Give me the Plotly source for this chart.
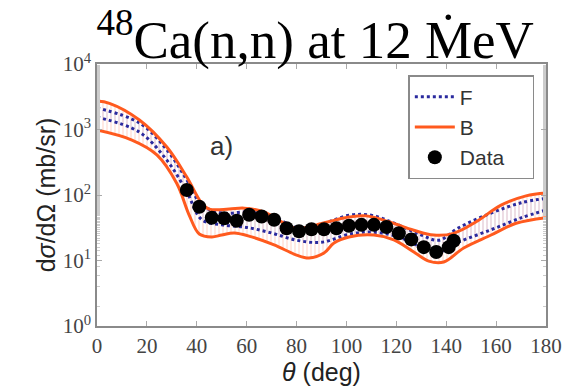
import plotly.graph_objects as go

# ---- data ----
theta_b_up = [0, 5, 17, 28, 36, 42, 45, 53, 59, 67, 74, 80, 88, 95, 101, 108, 117, 127, 135, 143, 152, 162, 172, 180]
b_up = [2720, 2510, 1400, 540, 188, 75, 61, 61, 63, 55, 39, 31, 35, 41, 46, 48, 39, 29, 24.5, 26, 39, 70, 97, 107]

theta_b_lo = [0, 14, 24, 32, 37, 41, 46, 50, 55, 62, 71, 80, 85, 91, 95, 101, 111, 119, 127, 133, 139, 147, 158, 168, 180]
b_lo = [980, 690, 410, 150, 49, 25.4, 22.9, 24.5, 26.3, 22.9, 17.3, 12.1, 10.9, 13.0, 18.5, 22.9, 24.5, 20.6, 13.5, 9.8, 9.5, 15.5, 24.5, 37, 45]

theta_f = [0, 17, 28, 36, 42, 50, 60, 70, 80, 90, 101, 110, 120, 130, 137, 145, 158, 170, 180]
f_up = [2140, 1260, 490, 170, 71, 53, 55, 48, 32, 36, 49, 49, 36, 24.5, 20.4, 31.6, 53, 76, 89]
f_lo = [1550, 910, 340, 112, 42, 35, 32, 26.3, 20.4, 19.0, 25.1, 27.2, 23.4, 16.2, 13.5, 19.1, 29.5, 44.7, 58.9]

theta_data = [36, 41, 46, 51, 56, 61, 66, 71, 76, 81, 86, 91, 96, 101, 106, 111, 116, 121, 126, 131, 136, 141, 143]
sigma_data = [119, 66, 45, 44, 40.5, 50, 47, 42, 31, 28, 30, 30, 31, 34, 35, 35, 32.5, 26, 21, 16, 13.5, 16, 20]
sigma_err = [6, 3.3, 2.3, 2.2, 2.0, 2.5, 2.4, 2.1, 1.6, 1.4, 1.5, 1.5, 1.6, 1.7, 1.8, 1.8, 1.6, 1.3, 1.1, 0.8, 0.7, 0.8, 1.0]

y_tickvals = [1, 10, 100, 1000, 10000]
y_ticktext = ["10<sup>0</sup>", "10<sup>1</sup>", "10<sup>2</sup>", "10<sup>3</sup>", "10<sup>4</sup>"]
x_tickvals = list(range(0, 181, 20))

ORANGE = "#ff5a1e"
BLUE = "#2a2a9e"
NBSP = "\u00a0"

fig = go.Figure()

# B band (hatched)
fig.add_trace(go.Scatter(
    x=theta_b_up + theta_b_lo[::-1], y=b_up + b_lo[::-1],
    fill="toself", mode="none", showlegend=False, hoverinfo="skip",
    fillcolor="rgba(0,0,0,0)",
    fillpattern=dict(shape="|", fgcolor="#ffb09a", bgcolor="rgba(255,255,255,0)", size=4, solidity=0.28),
))
# F band (hatched)
fig.add_trace(go.Scatter(
    x=theta_f + theta_f[::-1], y=f_up + f_lo[::-1],
    fill="toself", mode="none", showlegend=False, hoverinfo="skip",
    fillcolor="rgba(0,0,0,0)",
    fillpattern=dict(shape="|", fgcolor="#b8b8e8", bgcolor="rgba(255,255,255,0)", size=4, solidity=0.25),
))

# F dotted lines
fig.add_trace(go.Scatter(x=theta_f, y=f_up, mode="lines", name="F",
                         line=dict(color=BLUE, width=3, dash="dot", shape="spline")))
fig.add_trace(go.Scatter(x=theta_f, y=f_lo, mode="lines", name="F", showlegend=False,
                         line=dict(color=BLUE, width=3, dash="dot", shape="spline")))
# B solid lines
fig.add_trace(go.Scatter(x=theta_b_up, y=b_up, mode="lines", name="B",
                         line=dict(color=ORANGE, width=3, shape="spline")))
fig.add_trace(go.Scatter(x=theta_b_lo, y=b_lo, mode="lines", name="B", showlegend=False,
                         line=dict(color=ORANGE, width=3, shape="spline")))
# Data
fig.add_trace(go.Scatter(x=theta_data, y=sigma_data, mode="markers", name="Data" + NBSP * 4,
                         marker=dict(color="black", size=14),
                         error_y=dict(type="data", array=sigma_err, color="black", thickness=2, width=0)))

fig.update_layout(
    width=574, height=391,
    margin=dict(l=97, r=23, t=64, b=65),
    paper_bgcolor="white", plot_bgcolor="white",
    title=dict(text="<sup>48</sup>Ca(n,n) at 12 Ṁ" + "eV", x=0.168, xanchor="left", y=0.9, yanchor="middle",
               font=dict(family="Liberation Serif", size=53, color="black")),
    legend=dict(x=0.974, y=0.958, xanchor="right", yanchor="top",
                bgcolor="white", bordercolor="#8a8a8a", borderwidth=1.5,
                font=dict(family="Liberation Sans, Arial", size=21, color="#333"),
                itemwidth=40),
    annotations=[dict(text="a)", x=0.278, y=0.687, xref="paper", yref="paper", showarrow=False,
                      xanchor="center", yanchor="middle",
                      font=dict(family="Liberation Sans, Arial", size=26, color="#333"))],
)

fig.update_xaxes(range=[0, 180], tickvals=x_tickvals,
                 showline=True, linecolor="#8a8a8a", linewidth=1.5, mirror="ticks",
                 ticks="inside", ticklen=5, tickcolor="#aaaaaa", showgrid=False, zeroline=False,
                 tickfont=dict(family="Liberation Serif", size=21, color="#444"),
                 title=dict(text="<i>θ</i> (deg)", standoff=0,
                            font=dict(family="Liberation Sans, Arial", size=25, color="#222")))
fig.update_yaxes(type="log", range=[0, 4], tickvals=y_tickvals, ticktext=y_ticktext,
                 showline=True, linecolor="#8a8a8a", linewidth=1.5, mirror="ticks",
                 ticks="inside", ticklen=5, tickcolor="#aaaaaa", showgrid=False, zeroline=False,
                 minor=dict(ticks="inside", ticklen=3, tickcolor="#cccccc", showgrid=False),
                 tickfont=dict(family="Liberation Serif", size=21, color="#444"),
                 title=dict(text="d<i>σ</i>/dΩ (mb/sr)", standoff=0,
                            font=dict(family="Liberation Sans, Arial", size=25, color="#222")))

fig.write_html("out.html")
